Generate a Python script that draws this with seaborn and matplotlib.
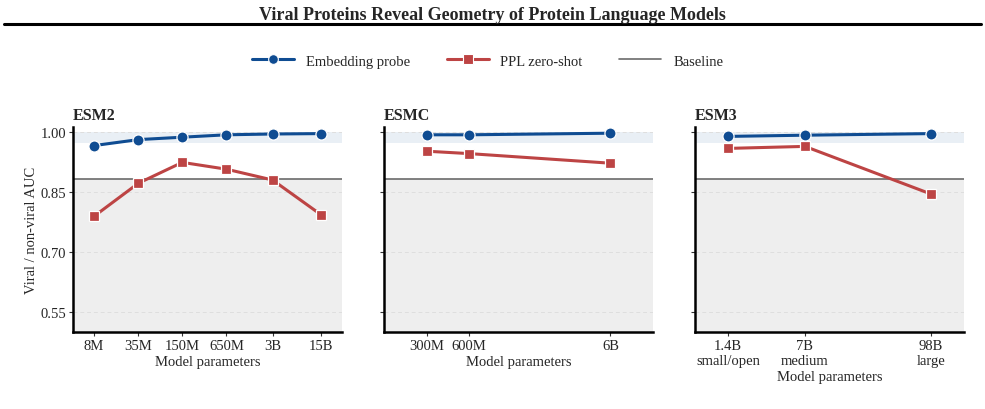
import numpy as np
import pandas as pd
import matplotlib
matplotlib.use("Agg")
import matplotlib.pyplot as plt
from matplotlib.lines import Line2D
from matplotlib.ticker import NullLocator, FixedLocator, FixedFormatter
import seaborn as sns

# ---- data ----
esm2_params = [8e6, 35e6, 150e6, 650e6, 3e9, 15e9]
esm2_labels = ["8M", "35M", "150M", "650M", "3B", "15B"]
esm2_probe = [0.966, 0.981, 0.987, 0.993, 0.995, 0.996]
esm2_ppl = [0.789, 0.872, 0.924, 0.907, 0.880, 0.793]

esmc_params = [300e6, 600e6, 6e9]
esmc_labels = ["300M", "600M", "6B"]
esmc_probe = [0.993, 0.993, 0.997]
esmc_ppl = [0.952, 0.946, 0.922]

esm3_params = [1.4e9, 7e9, 98e9]
esm3_labels = ["1.4B\nsmall/open", "7B\nmedium", "98B\nlarge"]
esm3_probe = [0.989, 0.992, 0.996]
esm3_ppl = [0.959, 0.964, 0.845]

baseline_auc = 0.8825
y_ticks = [0.55, 0.70, 0.85, 1.00]

panels = [
    ("ESM2", esm2_params, esm2_labels, esm2_probe, esm2_ppl),
    ("ESMC", esmc_params, esmc_labels, esmc_probe, esmc_ppl),
    ("ESM3", esm3_params, esm3_labels, esm3_probe, esm3_ppl),
]

BLUE = "#0f4c92"
RED = "#bd4444"
GREY_LINE = "#6b6b6b"

sns.set_theme(style="white")
plt.rcParams["font.family"] = ["Liberation Serif", "DejaVu Serif"]

fig = plt.figure(figsize=(9.85, 4.10), dpi=100)
lefts = [73 / 985, 384 / 985, 695 / 985]
ax_w = 269 / 985
ax_b = 1 - 333 / 410
ax_h = 205 / 410

ylim = (0.50, 1.0125)

for i, (name, params, labels, probe, ppl) in enumerate(panels):
    ax = fig.add_axes([lefts[i], ax_b, ax_w, ax_h])
    df = pd.DataFrame({"params": params, "probe": probe, "ppl": ppl})

    # shaded bands: below baseline and the near-perfect region
    ax.set_facecolor("white")
    ax.axhspan(ylim[0], baseline_auc, color="#eeeeee", zorder=0, lw=0)
    ax.axhspan(0.9725, 1.0, color="#e9eff5", zorder=0, lw=0)
    for yt in y_ticks:
        ax.axhline(yt, color="#dedede", lw=0.7, ls=(0, (4, 3)), zorder=0.5)
    ax.axhline(baseline_auc, color=GREY_LINE, lw=1.2, zorder=1)

    sns.lineplot(data=df, x="params", y="probe", ax=ax, color=BLUE, lw=2.2,
                 marker="o", markersize=8, markeredgecolor="white",
                 markeredgewidth=0.9, zorder=3)
    sns.lineplot(data=df, x="params", y="ppl", ax=ax, color=RED, lw=2.2,
                 marker="s", markersize=7, markeredgecolor="white",
                 markeredgewidth=0.9, zorder=3)

    ax.set_xscale("log")
    ax.set_xlim(min(params) / 2, max(params) * 2)
    ax.set_ylim(*ylim)
    ax.xaxis.set_major_locator(FixedLocator(params))
    ax.xaxis.set_major_formatter(FixedFormatter(labels))
    ax.xaxis.set_minor_locator(NullLocator())
    ax.set_yticks(y_ticks)
    ax.tick_params(axis="both", which="major", length=3, width=0.8,
                   color="#333333", labelsize=10.5, pad=2, bottom=True, left=True)
    if i == 0:
        ax.set_yticklabels([f"{t:.2f}" for t in y_ticks])
        ax.set_ylabel("Viral / non-viral AUC", fontsize=10.5, labelpad=2)
    else:
        ax.set_yticklabels([])
        ax.set_ylabel("")
    ax.set_xlabel("Model parameters", fontsize=10.5, labelpad=2)
    for sp in ["top", "right"]:
        ax.spines[sp].set_visible(False)
    for sp in ["left", "bottom"]:
        ax.spines[sp].set_color("black")
        ax.spines[sp].set_linewidth(1.8)
    ax.set_title(name, loc="left", fontsize=11.5, fontweight="bold", pad=6)
    ax.grid(False)

fig.text(0.5, 0.963, "Viral Proteins Reveal Geometry of Protein Language Models",
         ha="center", va="center", fontsize=13, fontweight="bold")
fig.add_artist(Line2D([0.004, 0.996], [0.939, 0.939], color="black", lw=2.2,
                      transform=fig.transFigure))

handles = [
    Line2D([0], [0], color=BLUE, lw=2.2, marker="o", markersize=7,
           markeredgecolor="white", markeredgewidth=0.8),
    Line2D([0], [0], color=RED, lw=2.2, marker="s", markersize=6.5,
           markeredgecolor="white", markeredgewidth=0.8),
    Line2D([0], [0], color=GREY_LINE, lw=1.2),
]
fig.legend(handles=handles, labels=["Embedding probe", "PPL zero-shot", "Baseline"],
           loc="center", bbox_to_anchor=(0.495, 0.849), ncol=3, frameon=False,
           fontsize=10.5, handlelength=2.9, columnspacing=2.5, handletextpad=0.8)

fig.savefig("out.png", dpi=100)
